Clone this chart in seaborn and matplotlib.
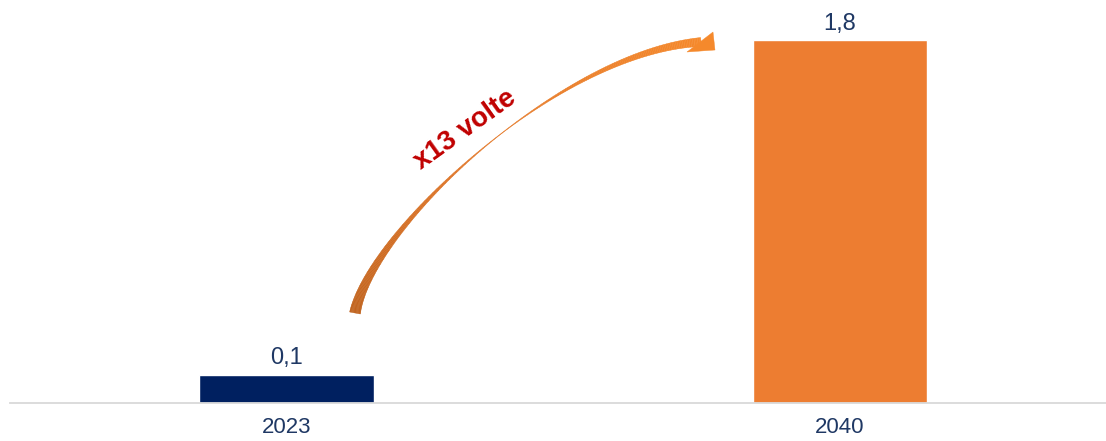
import numpy as np
import pandas as pd
import matplotlib
matplotlib.use("Agg")
import matplotlib.pyplot as plt
import seaborn as sns
from matplotlib.patches import Polygon
from matplotlib.colors import to_rgb

# ---- data ----
categories = ["2023", "2040"]
values = [0.14, 1.8]
bar_colors = ["#002060", "#ED7D31"]
value_labels = [f"{v:.1f}".replace(".", ",") for v in values]
multiplier_text = "x13 volte"

sns.set_theme(style="white")
plt.rcParams["font.family"] = ["Liberation Sans Narrow", "Liberation Sans", "DejaVu Sans"]

W, H = 1106, 441
fig = plt.figure(figsize=(W / 100, H / 100), dpi=100)
ax = fig.add_axes([10 / W, (H - 403) / H, (W - 10) / W, 403 / H])

df = pd.DataFrame({"year": categories, "value": values})
sns.barplot(data=df, x="year", y="value", hue="year", palette=bar_colors,
            width=0.315, legend=False, ax=ax, saturation=1)

ax.set_ylim(0, 2.0)
ax.set_xlim(-0.5, 1.481)
ax.set_xlabel("")
ax.set_ylabel("")
ax.set_yticks([])
for s in ["top", "left", "right"]:
    ax.spines[s].set_visible(False)
ax.spines["bottom"].set_color("#d9d9d9")
ax.spines["bottom"].set_linewidth(1.3)
ax.tick_params(axis="x", length=0, pad=10, labelsize=16, labelcolor="#1F3864")

# one container per hue level -> label each with its own formatted value
label_map = dict(zip(values, value_labels))
for cont in ax.containers:
    labs = [label_map.get(v, f"{v:.1f}".replace(".", ",")) for v in cont.datavalues]
    ax.bar_label(cont, labels=labs, padding=4, fontsize=17, color="#1F3864")

# ---- curved tapered arrow (decorative annotation, pixel space) ----
def px(x, y):
    return (x / W, 1 - y / H)

P0 = np.array([355.0, 313.0])
P1 = np.array([370.0, 230.0])
P2 = np.array([560.0, 52.0])
P3 = np.array([701.0, 42.0])
N = 260
t = np.linspace(0, 1, N)
pts = ((1 - t) ** 3)[:, None] * P0 + (3 * (1 - t) ** 2 * t)[:, None] * P1 \
    + (3 * (1 - t) * t ** 2)[:, None] * P2 + (t ** 3)[:, None] * P3
d = np.gradient(pts, axis=0)
d /= np.linalg.norm(d, axis=1)[:, None]
nrm = np.stack([-d[:, 1], d[:, 0]], axis=1)
w = np.where(t < 0.55,
             0.4 + 10.5 * ((0.55 - t) / 0.55) ** 1.3,
             0.4 + 8.5 * ((t - 0.55) / 0.45) ** 1.3)
left = pts + nrm * (w / 2)[:, None]
right = pts - nrm * (w / 2)[:, None]

c0 = np.array(to_rgb("#C0621C"))
c1 = np.array(to_rgb("#E47A2C"))
c2 = np.array(to_rgb("#F5892C"))
for i in range(N - 1):
    tm = (t[i] + t[i + 1]) / 2
    if tm < 0.5:
        col = c0 + (c1 - c0) * (tm / 0.5)
    else:
        col = c1 + (c2 - c1) * ((tm - 0.5) / 0.5)
    quad = [px(*left[i]), px(*left[i + 1]), px(*right[i + 1]), px(*right[i])]
    fig.patches.append(Polygon(quad, closed=True, transform=fig.transFigure,
                               facecolor=col, edgecolor=col, linewidth=0.3))
head = [px(713, 32), px(715, 50), px(687, 52)]
fig.patches.append(Polygon(head, closed=True, transform=fig.transFigure,
                           facecolor="#F5892C", edgecolor="#F5892C", linewidth=0.3))

fig.text(465 / W, 1 - 130 / H, multiplier_text, rotation=35.5, rotation_mode="anchor",
         ha="center", va="center", fontsize=20, fontweight="bold", color="#C00000",
         family=["Liberation Sans", "DejaVu Sans"])

fig.savefig("out.png", dpi=100, facecolor="white")
